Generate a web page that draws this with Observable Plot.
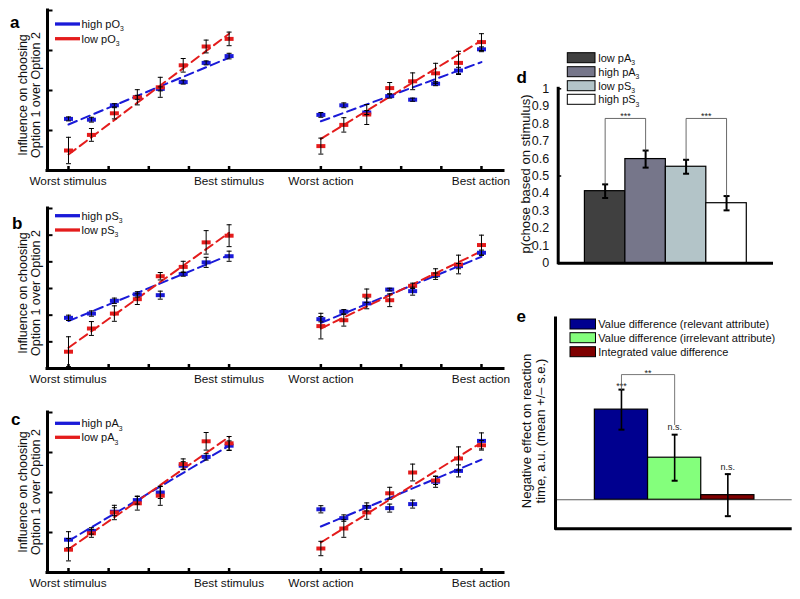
<!DOCTYPE html>
<html>
<head>
<meta charset="utf-8">
<script src="https://cdn.jsdelivr.net/npm/d3@7"></script>
<script src="https://cdn.jsdelivr.net/npm/@observablehq/plot@0.6"></script>
<style>
html,body{margin:0;padding:0;background:#fff;}
#fig{position:relative;width:800px;height:599px;overflow:hidden;background:#fff;font-family:"Liberation Sans",Arial,Helvetica,sans-serif;}
#fig svg{position:absolute;}
</style>
</head>
<body>
<div id="fig"></div>
<script>
// ---------------- shared labels / categories ----------------
const levels = [1, 2, 3, 4, 5, 6, 7, 8];
const actionShift = 11;
const xTickLevels = [1, 2.75, 4.5, 6.25, 8];
const endLabels = ["Worst stimulus", "Best stimulus", "Worst action", "Best action"];
const yLabelLines = ["Influence on choosing", "Option 1 over Option 2"];
const blue = "#1a1ad8", red = "#e41c1c";

// ---------------- panel a (pO3) ----------------
const aLegend = ["high pO_3", "low pO_3"];
const aStimHigh   = [1.29, 1.27, 1.63, 1.83, 2.04, 2.21, 2.69, 2.86];
const aStimHighSE = [0.05, 0.06, 0.04, 0.05, 0.05, 0.05, 0.05, 0.07];
const aStimLow    = [0.50, 0.89, 1.43, 1.83, 2.08, 2.63, 3.10, 3.29];
const aStimLowSE  = [0.33, 0.16, 0.14, 0.19, 0.25, 0.17, 0.16, 0.17];
const aActHigh    = [1.39, 1.63, 1.45, 1.86, 1.77, 2.17, 2.50, 3.03];
const aActHighSE  = [0.06, 0.06, 0.05, 0.05, 0.04, 0.05, 0.08, 0.06];
const aActLow     = [0.61, 1.14, 1.40, 2.06, 2.23, 2.43, 2.69, 3.21];
const aActLowSE   = [0.20, 0.18, 0.25, 0.14, 0.21, 0.25, 0.29, 0.21];
const aFitStimHigh = [1.15, 2.82], aFitStimLow = [0.40, 3.42];
const aFitActHigh  = [1.23, 2.71], aFitActLow  = [0.79, 3.25];
const aYTicks = [1, 2, 3, 4];

// ---------------- panel b (pS3) ----------------
const bLegend = ["high pS_3", "low pS_3"];
const bStimHigh   = [1.90, 2.06, 2.54, 2.78, 2.75, 3.54, 3.98, 4.21];
const bStimHighSE = [0.10, 0.10, 0.10, 0.10, 0.15, 0.08, 0.19, 0.19];
const bStimLow    = [0.63, 1.50, 2.06, 2.60, 3.46, 3.81, 4.73, 4.98];
const bStimLowSE  = [0.56, 0.26, 0.29, 0.20, 0.14, 0.21, 0.44, 0.41];
const bActHigh    = [1.85, 2.13, 2.44, 2.96, 2.90, 3.50, 3.84, 4.34];
const bActHighSE  = [0.10, 0.08, 0.20, 0.05, 0.15, 0.08, 0.10, 0.10];
const bActLow     = [1.59, 1.81, 2.73, 2.56, 3.10, 3.54, 3.90, 4.63];
const bActLowSE   = [0.48, 0.22, 0.25, 0.24, 0.10, 0.20, 0.35, 0.37];
const bFitStimHigh = [1.78, 4.25], bFitStimLow = [0.78, 5.09];
const bFitActHigh  = [1.71, 4.19], bFitActLow  = [1.50, 4.40];
const bYTicks = [1, 2, 3, 4, 5, 6];

// ---------------- panel c (pA3) ----------------
const cLegend = ["high pA_3", "low pA_3"];
const cStimHigh   = [0.82, 1.04, 1.52, 1.81, 2.00, 2.67, 2.89, 3.17];
const cStimHighSE = [0.20, 0.08, 0.10, 0.10, 0.15, 0.10, 0.08, 0.12];
const cStimLow    = [0.57, 0.98, 1.50, 1.73, 1.92, 2.71, 3.28, 3.23];
const cStimLowSE  = [0.28, 0.10, 0.18, 0.17, 0.24, 0.13, 0.22, 0.17];
const cActHigh    = [1.58, 1.36, 1.64, 1.61, 1.71, 2.27, 2.54, 3.29];
const cActHighSE  = [0.09, 0.08, 0.10, 0.10, 0.10, 0.14, 0.15, 0.20];
const cActLow     = [0.60, 1.10, 1.50, 1.98, 2.50, 2.30, 2.85, 3.18];
const cActLowSE   = [0.18, 0.22, 0.17, 0.15, 0.21, 0.10, 0.29, 0.12];
const cFitStimHigh = [0.79, 3.17], cFitStimLow = [0.58, 3.39];
const cFitActHigh  = [1.15, 2.82], cFitActLow  = [0.75, 3.25];
const cYTicks = [1, 2, 3, 4];

// ---------------- panel d ----------------
const dGroups = ["low pA_3", "high pA_3", "low pS_3", "high pS_3"];
const dValues = [0.413, 0.597, 0.553, 0.344];
const dSE     = [0.039, 0.049, 0.040, 0.041];
const dColors = ["#404040", "#76768a", "#b3c4c8", "#ffffff"];
const dYTicks = [0, 0.1, 0.2, 0.3, 0.4, 0.5, 0.6, 0.7, 0.8, 0.9, 1];
const dYLabel = "p(chose based on stimulus)";
const dBrackets = [{from: 1, to: 2, top: 0.83, label: "***"}, {from: 3, to: 4, top: 0.83, label: "***"}];

// ---------------- panel e ----------------
const eGroups = ["Value difference (relevant attribute)", "Value difference (irrelevant attribute)", "Integrated value difference"];
const eValues = [0.90, 0.42, 0.046];
const eSE     = [0.20, 0.23, 0.21];
const eColors = ["#00008f", "#84ff7c", "#7f0000"];
const eLabels = ["***", "n.s.", "n.s."];
const eBracket = {from: 1, to: 2, top: 1.25, ends: [1.10, 0.75], label: "**"};
const eYLabel = ["Negative effect on reaction", "time, a.u. (mean +/\u2013 s.e.)"];

// ---------------- helpers ----------------
const fig = d3.select("#fig");
const FONT = '"Liberation Sans", Arial, Helvetica, sans-serif';
const svgStyle = `background:transparent;overflow:visible;font-family:${FONT};`;

const markSym  = {draw(c) { c.moveTo(-4.5, -2); c.lineTo(4.5, -2); c.lineTo(4.5, 2); c.lineTo(-4.5, 2); c.closePath(); }};
const capSym   = {draw(c) { c.moveTo(-2.5, 0); c.lineTo(2.5, 0); }};
const bigCap   = {draw(c) { c.moveTo(-3, 0); c.lineTo(3, 0); }};
const tickUp   = {draw(c) { c.moveTo(0, 0); c.lineTo(0, -4.5); }};
const tickRight= {draw(c) { c.moveTo(0, 0); c.lineTo(5, 0); }};
const tickRightShort = {draw(c) { c.moveTo(0, 0); c.lineTo(3, 0); }};

function rows(vals, ses, shift) {
  return vals.map((v, i) => ({x: levels[i] + shift, v, lo: v - ses[i], hi: v + ses[i]}));
}
function fitRows(ends, shift) {
  return [{x: levels[0] + shift, v: ends[0]}, {x: levels[levels.length - 1] + shift, v: ends[1]}];
}
function place(svg, left, top) {
  svg.style.left = left + "px"; svg.style.top = top + "px";
  fig.node().appendChild(svg);
}

const xDom = [0.085, 19.96];
const xTicks = xTickLevels.concat(xTickLevels.map(t => t + actionShift));

function trialPanel(top, yMax, yTicks, series) {
  const marks = [
    Plot.ruleY([0], {stroke: "black", strokeWidth: 3, strokeLinecap: "square"}),
    Plot.ruleX([xDom[0]], {stroke: "black", strokeWidth: 3, strokeLinecap: "square"}),
    Plot.dot(xTicks, {x: d => d, y: () => 0, symbol: tickUp, stroke: "black", strokeWidth: 2.5, fill: "none"}),
    Plot.dot(yTicks, {x: () => xDom[0], y: d => d, symbol: tickRight, stroke: "black", strokeWidth: 2, fill: "none"})
  ];
  for (const s of series) marks.push(Plot.line(fitRows(s.fit, s.shift), {x: "x", y: "v", stroke: s.color, strokeWidth: 2, strokeDasharray: "9,5"}));
  for (const s of series) marks.push(Plot.dot(rows(s.vals, s.se, s.shift), {x: "x", y: "v", symbol: markSym, fill: s.color, stroke: "none"}));
  for (const s of series) {
    const r = rows(s.vals, s.se, s.shift);
    marks.push(Plot.ruleX(r, {x: "x", y1: "lo", y2: "hi", stroke: "black", strokeWidth: 1}));
    marks.push(Plot.dot(r, {x: "x", y: "lo", symbol: capSym, stroke: "black", strokeWidth: 1, fill: "none"}));
    marks.push(Plot.dot(r, {x: "x", y: "hi", symbol: capSym, stroke: "black", strokeWidth: 1, fill: "none"}));
  }
  const svg = Plot.plot({
    width: 520, height: 180, marginLeft: 47, marginRight: 17, marginTop: 10, marginBottom: 10,
    x: {domain: xDom, axis: null}, y: {domain: [0, yMax], axis: null},
    style: svgStyle, marks
  });
  place(svg, 0, top);
}

trialPanel(0, 4, aYTicks, [
  {vals: aStimHigh, se: aStimHighSE, shift: 0, color: blue, fit: aFitStimHigh},
  {vals: aActHigh, se: aActHighSE, shift: actionShift, color: blue, fit: aFitActHigh},
  {vals: aStimLow, se: aStimLowSE, shift: 0, color: red, fit: aFitStimLow},
  {vals: aActLow, se: aActLowSE, shift: actionShift, color: red, fit: aFitActLow}
]);
trialPanel(198, 6, bYTicks, [
  {vals: bStimHigh, se: bStimHighSE, shift: 0, color: blue, fit: bFitStimHigh},
  {vals: bActHigh, se: bActHighSE, shift: actionShift, color: blue, fit: bFitActHigh},
  {vals: bStimLow, se: bStimLowSE, shift: 0, color: red, fit: bFitStimLow},
  {vals: bActLow, se: bActLowSE, shift: actionShift, color: red, fit: bFitActLow}
]);
trialPanel(402, 4, cYTicks, [
  {vals: cStimHigh, se: cStimHighSE, shift: 0, color: blue, fit: cFitStimHigh},
  {vals: cActHigh, se: cActHighSE, shift: actionShift, color: blue, fit: cFitActHigh},
  {vals: cStimLow, se: cStimLowSE, shift: 0, color: red, fit: cFitStimLow},
  {vals: cActLow, se: cActLowSE, shift: actionShift, color: red, fit: cFitActLow}
]);

// ---------------- panel d plot ----------------
const dXDom = [-0.16, 5.16];
const dRows = dValues.map((v, i) => ({i: i + 1, v, lo: v - dSE[i], hi: v + dSE[i], color: dColors[i]}));
const dBracketPts = dBrackets.flatMap((b, k) => [
  {k, x: b.from, y: dRows[b.from - 1].hi}, {k, x: b.from, y: b.top},
  {k, x: b.to, y: b.top}, {k, x: b.to, y: dRows[b.to - 1].hi}
]);
const dPlot = Plot.plot({
  width: 265, height: 235, marginLeft: 42.7, marginRight: 7, marginTop: 48.3, marginBottom: 12.3,
  x: {domain: dXDom, axis: null}, y: {domain: [0, 1], axis: null}, color: {type: "identity"},
  style: svgStyle,
  marks: [
    Plot.rect(dRows, {x1: d => d.i - 0.5, x2: d => d.i + 0.5, y1: () => 0, y2: "v", fill: "color", stroke: "black", strokeWidth: 1.2}),
    Plot.ruleX(dRows, {x: "i", y1: "lo", y2: "hi", stroke: "black", strokeWidth: 2}),
    Plot.dot(dRows, {x: "i", y: "lo", symbol: bigCap, stroke: "black", strokeWidth: 2, fill: "none"}),
    Plot.dot(dRows, {x: "i", y: "hi", symbol: bigCap, stroke: "black", strokeWidth: 2, fill: "none"}),
    Plot.line(dBracketPts, {x: "x", y: "y", z: "k", stroke: "#444", strokeWidth: 0.8}),
    Plot.text(dBrackets, {x: d => (d.from + d.to) / 2, y: "top", text: "label", fontSize: 9, lineAnchor: "bottom", dy: 1, fill: "#222"}),
    Plot.ruleY([0], {stroke: "black", strokeWidth: 3}),
    Plot.ruleX([dXDom[0]], {stroke: "black", strokeWidth: 3, strokeLinecap: "square"}),
    Plot.dot([0.5, 1], {x: () => dXDom[0], y: d => d, symbol: tickRightShort, stroke: "black", strokeWidth: 1.5, fill: "none"}),
    Plot.text(dYTicks, {x: () => dXDom[0], y: d => d, text: d => String(+d.toFixed(1)), textAnchor: "end", dx: -9, fontSize: 12.5, fill: "#111"})
  ]
});
place(dPlot, 515, 40);

// ---------------- panel e plot ----------------
const eXDom = [-0.24, 4.21];
const eYDom = [-0.29, 1.81];
const eRows = eValues.map((v, i) => ({i: i + 1, v, lo: v - eSE[i], hi: v + eSE[i], color: eColors[i], label: eLabels[i]}));
const eBracketPts = [
  {x: eBracket.from, y: eBracket.ends[0]}, {x: eBracket.from, y: eBracket.top},
  {x: eBracket.to, y: eBracket.top}, {x: eBracket.to, y: eBracket.ends[1]}
];
const ePlot = Plot.plot({
  width: 285, height: 235, marginLeft: 40, marginRight: 8.3, marginTop: 18, marginBottom: 6.7,
  x: {domain: eXDom, axis: null}, y: {domain: eYDom, axis: null}, color: {type: "identity"},
  style: svgStyle,
  marks: [
    Plot.rect(eRows, {x1: d => d.i - 0.5, x2: d => d.i + 0.5, y1: () => 0, y2: "v", fill: "color", stroke: "black", strokeWidth: 1.2}),
    Plot.ruleY([0], {stroke: "#333", strokeWidth: 0.8}),
    Plot.ruleX(eRows, {x: "i", y1: "lo", y2: "hi", stroke: "black", strokeWidth: 1.6}),
    Plot.dot(eRows, {x: "i", y: "lo", symbol: bigCap, stroke: "black", strokeWidth: 2, fill: "none"}),
    Plot.dot(eRows, {x: "i", y: "hi", symbol: bigCap, stroke: "black", strokeWidth: 2, fill: "none"}),
    Plot.text(eRows.filter(d => d.label === "***"), {x: "i", y: "hi", text: "label", fontSize: 9, lineAnchor: "bottom", dy: -0.5, fill: "#222"}),
    Plot.text(eRows.filter(d => d.label !== "***"), {x: "i", y: "hi", text: "label", fontSize: 9, lineAnchor: "bottom", dy: -4.5, fill: "#222"}),
    Plot.line(eBracketPts, {x: "x", y: "y", stroke: "#555", strokeWidth: 0.8}),
    Plot.text([eBracket], {x: d => (d.from + d.to) / 2, y: "top", text: "label", fontSize: 9, lineAnchor: "bottom", dy: 1.5, fill: "#222"}),
    Plot.ruleY([eYDom[0]], {stroke: "black", strokeWidth: 3}),
    Plot.ruleX([eXDom[0]], {stroke: "black", strokeWidth: 3, strokeLinecap: "square"})
  ]
});
place(ePlot, 515, 300);

// ---------------- text overlay (labels, legends) ----------------
const ov = fig.append("svg").attr("width", 800).attr("height", 599)
  .style("left", "0px").style("top", "0px").style("font-family", FONT);

function subText(sel, x, y, label, size) {
  const [base, sub] = label.split("_");
  const t = sel.append("text").attr("x", x).attr("y", y).attr("font-size", size).attr("fill", "#111");
  t.append("tspan").text(base);
  if (sub) t.append("tspan").attr("font-size", size * 0.62).attr("dy", size * 0.3).text(sub);
  return t;
}
function rotText(x, y, s, size) {
  ov.append("text").attr("transform", `translate(${x},${y}) rotate(-90)`).attr("text-anchor", "middle")
    .attr("font-size", size).attr("fill", "#111").text(s);
}

// panel letters
[["a", 10, 28], ["b", 12, 229], ["c", 11, 425], ["d", 516.5, 82.5], ["e", 516.5, 321.5]].forEach(([s, x, y]) => {
  ov.append("text").attr("x", x).attr("y", y).attr("font-size", 17).attr("font-weight", "bold").attr("fill", "#000").text(s);
});

// trial panels: y labels, x end labels, legends
const trialInfo = [
  {axisBottom: 170, labelY: 95, legend: aLegend, legY: [24, 38.7]},
  {axisBottom: 368.3, labelY: 293, legend: bLegend, legY: [215.7, 230]},
  {axisBottom: 571.7, labelY: 492, legend: cLegend, legY: [423.3, 437.3]}
];
const endX = [68, 229, 321, 481];
trialInfo.forEach(p => {
  rotText(26.5, p.labelY, yLabelLines[0], 12.5);
  rotText(39.5, p.labelY, yLabelLines[1], 12.5);
  endLabels.forEach((s, i) => {
    ov.append("text").attr("x", endX[i]).attr("y", p.axisBottom + 15).attr("text-anchor", "middle")
      .attr("font-size", 11.8).attr("fill", "#111").text(s);
  });
  [blue, red].forEach((col, i) => {
    ov.append("line").attr("x1", 55).attr("x2", 80).attr("y1", p.legY[i]).attr("y2", p.legY[i])
      .attr("stroke", col).attr("stroke-width", 3.3);
    subText(ov, 81.5, p.legY[i] + 4, p.legend[i], 11);
  });
});

// panel d legend + y label
const dLegTops = [52.7, 66.7, 80.7, 94.3];
dGroups.forEach((g, i) => {
  ov.append("rect").attr("x", 567.3).attr("y", dLegTops[i]).attr("width", 27.7).attr("height", 10)
    .attr("fill", dColors[i]).attr("stroke", "black").attr("stroke-width", 1);
  subText(ov, 598.3, dLegTops[i] + 9, g, 11);
});
rotText(529.5, 174, dYLabel, 13);

// panel e legend + y label
const eLegTops = [319, 332.7, 346.7];
eGroups.forEach((g, i) => {
  ov.append("rect").attr("x", 570).attr("y", eLegTops[i]).attr("width", 25.5).attr("height", 10)
    .attr("fill", eColors[i]).attr("stroke", "black").attr("stroke-width", 1);
  ov.append("text").attr("x", 598.3).attr("y", eLegTops[i] + 9).attr("font-size", 11).attr("fill", "#111").text(g);
});
rotText(531, 431, eYLabel[0], 13);
rotText(545, 431, eYLabel[1], 13);
</script>
</body>
</html>
